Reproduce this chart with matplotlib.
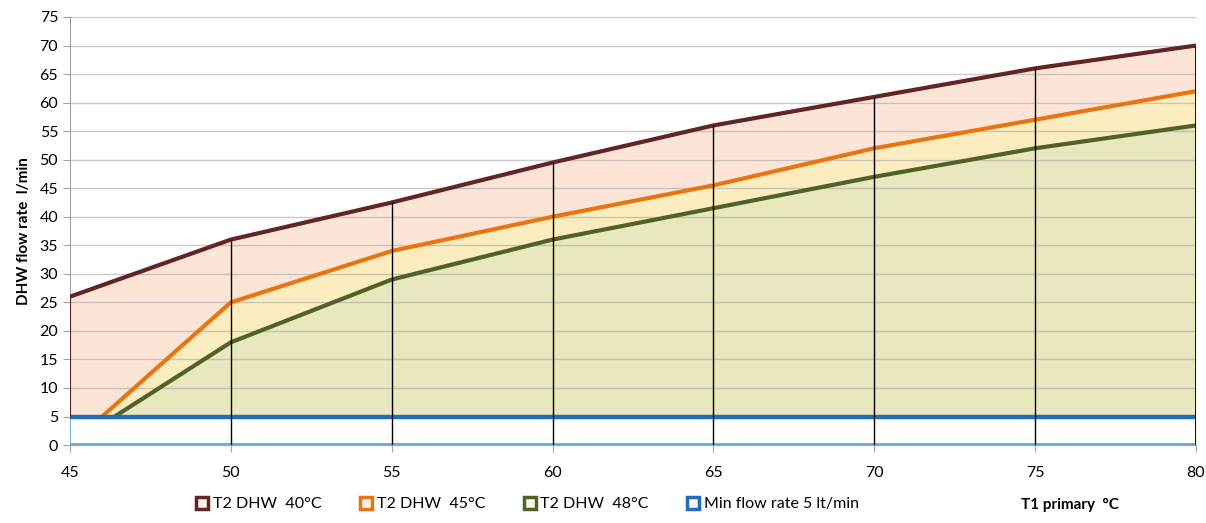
import numpy as np
import matplotlib.pyplot as plt
from matplotlib.lines import Line2D

plt.rcParams['font.family'] = ['Lato', 'DejaVu Sans']

t1 = [45, 50, 55, 60, 65, 70, 75, 80]
dhw40 = [26, 36, 42.5, 49.5, 56, 61, 66, 70]
dhw45 = [0, 25, 34, 40, 45.5, 52, 57, 62]
dhw48 = [0, 18, 29, 36, 41.5, 47, 52, 56]
minflow = [5, 5, 5, 5, 5, 5, 5, 5]

labels = ['T2 DHW  40°C', 'T2 DHW  45°C', 'T2 DHW  48°C', 'Min flow rate 5 lt/min']
c40, c45, c48, cmin = '#632523', '#E87511', '#4F6228', '#1F6FB8'

fig = plt.figure(figsize=(12.06, 5.23), dpi=100)
ax = fig.add_axes([0.058, 0.149, 0.9337, 0.8185])

x = np.array(t1)
ax.fill_between(x, dhw45, dhw40, color='#FCE5D6', lw=0, zorder=1)
ax.fill_between(x, dhw48, dhw45, color='#FCEDC0', lw=0, zorder=1)
ax.fill_between(x, 0, dhw48, color='#E8E7BE', lw=0, zorder=1)

for y in range(5, 80, 5):
    ax.axhline(y, color='#A8A8A8', lw=1.0, alpha=0.6, zorder=2)

ax.plot(x, dhw40, color=c40, lw=3, zorder=6, solid_capstyle='butt')
ax.plot(x, dhw45, color=c45, lw=3, zorder=6, solid_capstyle='butt')
ax.plot(x, dhw48, color=c48, lw=3, zorder=6, solid_capstyle='butt')

# min flow area covers everything below 5
ax.fill_between(x, 0, minflow, color='white', lw=0, zorder=6.5)
ax.plot([45, 45, 80, 80], [5, 0.25, 0.25, 5], color='#5B9BD5', lw=1.2, zorder=7)
ax.plot(x, minflow, color=cmin, lw=3.2, zorder=7)

# drop lines
ax.vlines(x[1:-1], 0, dhw40[1:-1], color='black', lw=1.0, zorder=8)
ax.vlines(x[-1], 0, dhw40[-1], color='black', lw=2.0, zorder=8)
ax.vlines(x[0], 5, dhw40[0], color=c40, lw=1.5, zorder=8)

ax.set_xlim(45, 80)
ax.set_ylim(0, 75)
ax.set_xticks(range(45, 81, 5))
ax.set_yticks(range(0, 76, 5))
ax.tick_params(axis='both', labelsize=11.5, length=5, color='#A0A0A0')
ax.tick_params(axis='x', pad=10)
for s in ['top', 'right']:
    ax.spines[s].set_visible(False)
for s in ['left', 'bottom']:
    ax.spines[s].set_color('#A0A0A0')
ax.set_ylabel('DHW flow rate  l/min', fontsize=11, fontweight='bold', labelpad=6)
fig.text(0.887, 0.034, 'T1 primary  °C', fontsize=11, fontweight='bold',
         ha='center', va='center')

handles = [Line2D([], [], ls='none', marker='s', markersize=8, mfc='#FDF5EE',
                  mec=c, mew=2.5) for c in [c40, c45, c48, cmin]]
fig.legend(handles, labels, loc='lower center', bbox_to_anchor=(0.436, -0.005), ncol=4,
           frameon=False, fontsize=11.5, handletextpad=0.05, columnspacing=2.2,
           handlelength=1.2)

fig.savefig('out.png', dpi=100)
